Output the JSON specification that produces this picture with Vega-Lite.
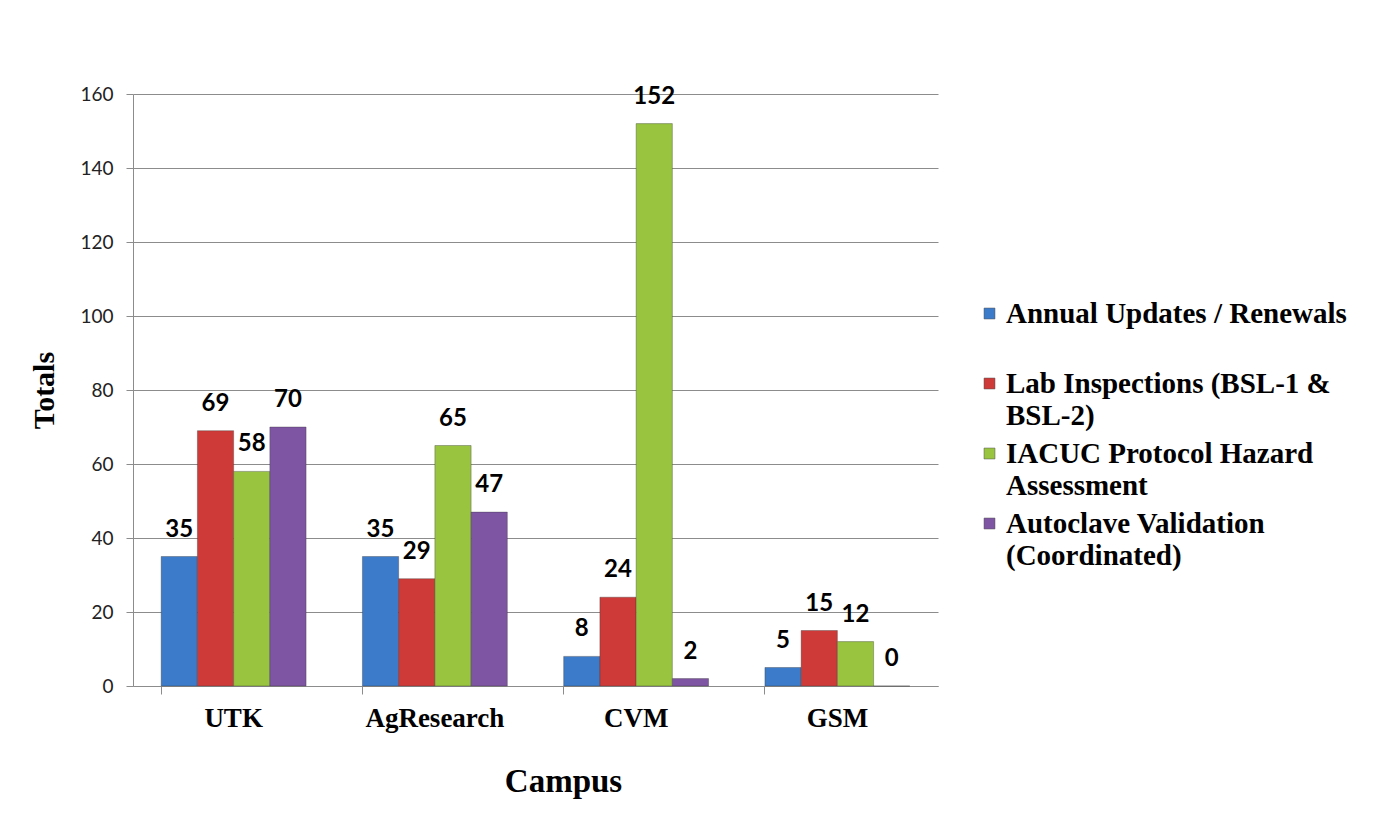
{
  "$schema": "https://vega.github.io/schema/vega-lite/v6.json",
  "autosize": "none",
  "width": 805,
  "height": 592,
  "padding": {"left": 133, "top": 94, "right": 442, "bottom": 130},
  "background": "white",
  "config": {"view": {"stroke": null}},
  "data": {"values": [
    {"campus": "UTK", "series": "Annual Updates / Renewals", "value": 35},
    {"campus": "UTK", "series": "Lab Inspections (BSL-1 & BSL-2)", "value": 69},
    {"campus": "UTK", "series": "IACUC Protocol Hazard Assessment", "value": 58},
    {"campus": "UTK", "series": "Autoclave Validation (Coordinated)", "value": 70},
    {"campus": "AgResearch", "series": "Annual Updates / Renewals", "value": 35},
    {"campus": "AgResearch", "series": "Lab Inspections (BSL-1 & BSL-2)", "value": 29},
    {"campus": "AgResearch", "series": "IACUC Protocol Hazard Assessment", "value": 65},
    {"campus": "AgResearch", "series": "Autoclave Validation (Coordinated)", "value": 47},
    {"campus": "CVM", "series": "Annual Updates / Renewals", "value": 8},
    {"campus": "CVM", "series": "Lab Inspections (BSL-1 & BSL-2)", "value": 24},
    {"campus": "CVM", "series": "IACUC Protocol Hazard Assessment", "value": 152},
    {"campus": "CVM", "series": "Autoclave Validation (Coordinated)", "value": 2},
    {"campus": "GSM", "series": "Annual Updates / Renewals", "value": 5},
    {"campus": "GSM", "series": "Lab Inspections (BSL-1 & BSL-2)", "value": 15},
    {"campus": "GSM", "series": "IACUC Protocol Hazard Assessment", "value": 12},
    {"campus": "GSM", "series": "Autoclave Validation (Coordinated)", "value": 0}
  ]},
  "encoding": {
    "x": {
      "field": "campus", "type": "nominal", "sort": ["UTK", "AgResearch", "CVM", "GSM"],
      "scale": {"paddingInner": 0.28, "paddingOuter": 0.14},
      "axis": {
        "title": "Campus", "titleFont": "Liberation Serif", "titleFontSize": 33, "titleFontWeight": "bold",
        "titleColor": "black", "titlePadding": 34, "titleX": 430,
        "labelFont": "Liberation Serif", "labelFontSize": 27, "labelFontWeight": "bold", "labelColor": "black",
        "labelAngle": 0, "labelPadding": 11,
        "bandPosition": 0, "tickSize": 8, "tickColor": "#8c8c8c", "domainColor": "#8c8c8c", "grid": false
      }
    },
    "xOffset": {"field": "series", "type": "nominal",
      "sort": ["Annual Updates / Renewals", "Lab Inspections (BSL-1 & BSL-2)", "IACUC Protocol Hazard Assessment", "Autoclave Validation (Coordinated)"],
      "scale": {"paddingInner": 0, "paddingOuter": 0}},
    "y": {
      "field": "value", "type": "quantitative",
      "scale": {"domain": [0, 160]},
      "axis": {
        "title": "Totals", "titleFont": "Liberation Serif", "titleFontSize": 30, "titleFontWeight": "bold",
        "titleColor": "black", "titlePadding": 20,
        "labelFont": "Lato", "labelFontSize": 19, "labelColor": "#222",
        "labelPadding": 13, "values": [0, 20, 40, 60, 80, 100, 120, 140, 160],
        "tickSize": 7, "tickColor": "#8c8c8c", "domainColor": "#8c8c8c",
        "gridColor": "#8c8c8c", "gridWidth": 1
      }
    }
  },
  "layer": [
    {
      "mark": {"type": "bar", "stroke": "#333", "strokeOpacity": 0.35, "strokeWidth": 1},
      "encoding": {
        "color": {
          "field": "series", "type": "nominal",
          "sort": ["Annual Updates / Renewals", "Lab Inspections (BSL-1 & BSL-2)", "IACUC Protocol Hazard Assessment", "Autoclave Validation (Coordinated)"],
          "scale": {"range": ["#3B7BC9", "#CD3A38", "#98C43F", "#7E55A3"]},
          "legend": {
            "title": null, "orient": "none", "legendX": 842, "legendY": 205,
            "symbolType": "square", "symbolSize": 120, "symbolStrokeColor": "#555", "symbolStrokeWidth": 0.5,
            "labelFont": "Liberation Serif", "labelFontSize": 29, "labelFontWeight": "bold", "labelColor": "black",
            "labelLimit": 500, "labelOffset": 2, "rowPadding": 8,
            "labelExpr": "datum.label == 'Annual Updates / Renewals' ? ['Annual Updates / Renewals', ' '] : datum.label == 'Lab Inspections (BSL-1 & BSL-2)' ? ['Lab Inspections (BSL-1 &', 'BSL-2)'] : datum.label == 'IACUC Protocol Hazard Assessment' ? ['IACUC Protocol Hazard', 'Assessment'] : ['Autoclave Validation', '(Coordinated)']",
            "encode": {"labels": {"update": {"lineHeight": {"value": 32}}}}
          }
        }
      }
    },
    {
      "mark": {"type": "text", "font": "Lato", "fontSize": 24, "fontWeight": "bold", "color": "black", "dy": -27, "baseline": "middle"},
      "encoding": {"text": {"field": "value", "type": "quantitative"}}
    }
  ]
}
